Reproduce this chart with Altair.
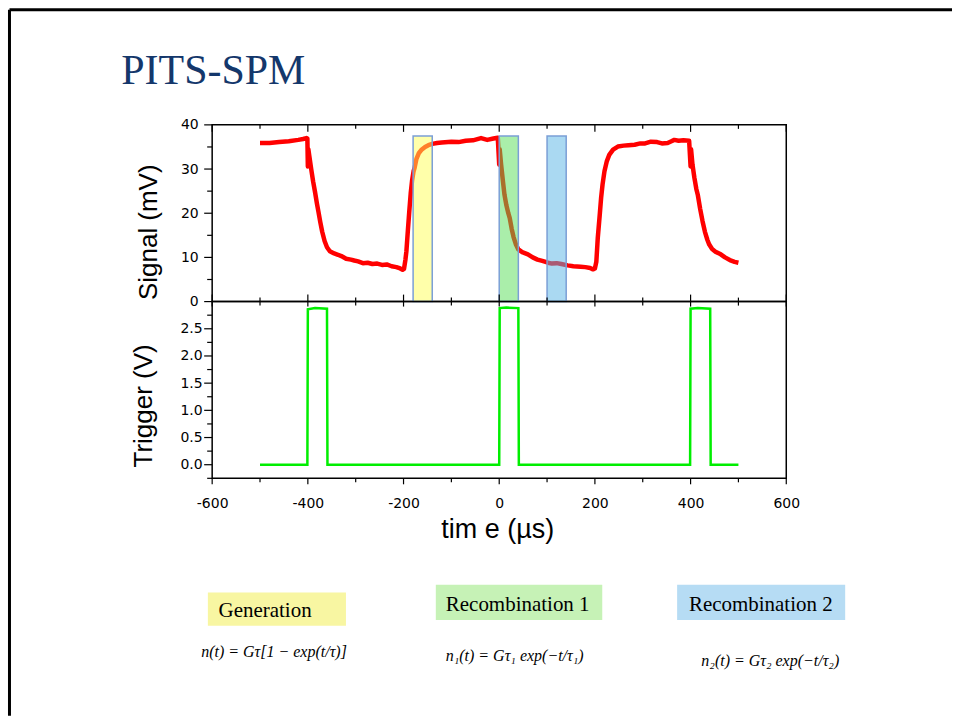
import altair as alt
import pandas as pd

# ---------------- data ----------------
sig_t = [-500, -480, -460, -440, -420, -410, -403, -401, -400, -399, -397, -393, -389, -385, -381,
         -378, -374, -370, -365, -360, -354, -345, -337, -330, -320, -310, -303, -295, -285, -275,
         -265, -255, -245, -235, -225, -215, -207, -202, -199, -196, -194, -191, -188, -185, -182,
         -179, -177, -173, -168, -163, -155, -148, -140, -130, -120, -100, -85, -70, -55, -38,
         -25, -12, -3, 0, 1, 4, 8, 11, 15, 19, 22, 26, 30, 35, 40, 48, 60, 70, 80, 90, 102, 110,
         120, 130, 143, 155, 170, 180, 190, 196, 200, 203, 206, 210, 213, 216, 220, 225, 230, 238,
         248, 260, 270, 283, 295, 305, 317, 330, 340, 352, 360, 366, 375, 385, 397, 400, 401, 404,
         408, 412, 415, 420, 425, 430, 435, 439, 445, 452, 463, 472, 482, 492, 500]
sig_v = [35.9, 35.9, 36.1, 36.3, 36.6, 36.8, 37.0, 36.9, 30.6, 34.5, 33.0, 30.0, 27.2, 24.8, 22.2,
         20.4, 18.0, 15.8, 13.7, 12.3, 11.4, 10.9, 10.6, 10.3, 9.7, 9.5, 9.3, 9.1, 8.7, 8.8,
         8.5, 8.6, 8.3, 8.4, 8.0, 7.8, 7.5, 7.2, 7.4, 9.5, 11.4, 16.0, 20.4, 24.5, 27.5,
         29.5, 30.2, 32.3, 33.6, 34.3, 35.0, 35.4, 35.7, 35.9, 36.0, 36.2, 36.1, 36.4, 36.5, 37.0,
         36.6, 36.9, 37.1, 31.0, 34.5, 31.0, 27.0, 24.2, 21.8, 20.0, 18.9, 16.5, 14.6, 12.9, 11.8,
         11.2, 10.7, 10.0, 9.5, 9.2, 8.8, 8.6, 8.7, 8.5, 8.2, 8.0, 7.9, 7.8, 7.6, 7.3, 7.5, 9.0,
         14.4, 19.5, 23.5, 26.5, 29.5, 31.8, 33.2, 34.4, 35.1, 35.3, 35.4, 35.5, 35.8, 35.8, 36.2,
         36.1, 35.8, 35.9, 36.3, 36.6, 36.4, 36.5, 36.4, 30.6, 34.5, 31.0, 28.0, 25.5, 24.2, 21.0,
         18.2, 15.8, 14.0, 12.9, 11.9, 11.3, 10.7, 10.0, 9.4, 9.0, 8.8]

trig_t = [-500, -401, -400, -385, -360, -359, 0, 1, 15, 40, 41, 399, 400, 415, 441, 442, 500]
trig_v = [0.0, 0.0, 2.86, 2.88, 2.87, 0.0, 0.0, 2.88, 2.89, 2.88, 0.0, 0.0, 2.87, 2.88, 2.87, 0.0, 0.0]

region_names = ["Generation", "Recombination 1", "Recombination 2"]
region_start = [-180, 0, 100]
region_end = [-140, 40, 140]
region_top = 37.5
region_colors = ["#ffff55", "#55dd55", "#55b4e6"]
box_colors = ["#f8f6a2", "#c6f2b6", "#b6dcf4"]
formulas = ["n(t) = Gτ[1 − exp(t/τ)]", "n₁(t) = Gτ₁ exp(−t/τ₁)", "n₂(t) = Gτ₂ exp(−t/τ₂)"]

x_major = [-600, -400, -200, 0, 200, 400, 600]
x_minor = [-500, -300, -100, 100, 300, 500]
sig_major = [0, 10, 20, 30, 40]
sig_minor = [5, 15, 25, 35]
trig_major = [0, 0.5, 1.0, 1.5, 2.0, 2.5]
trig_minor = [-0.25, 0.25, 0.75, 1.25, 1.75, 2.25, 2.75]

# ---------------- layout constants ----------------
W, H = 575, 177
OX, OY_TOP, OY_BOT = 211, 123.3, 300.3   # plot origins in the page
LBL_FONT = "DejaVu Sans"
TTL_FONT = "Liberation Sans"
SERIF = "Liberation Serif"

xscale = alt.Scale(domain=[-600, 600], nice=False, zero=False)
sig_scale = alt.Scale(domain=[0, 40], nice=False, zero=False)
trig_scale = alt.Scale(domain=[-0.25, 3.0], nice=False, zero=False)

sig_axis = alt.Axis(values=sig_major, format="d", ticks=False, tickSize=0, domain=False, grid=False,
                    labelFlush=False, labelOverlap=False,
                    labelPadding=14, labelFont=LBL_FONT, labelFontSize=14, labelColor="black",
                    title="Signal (mV)", titleFont=TTL_FONT, titleFontSize=26, titleFontWeight="normal",
                    titleColor="black", titleAngle=270, titleAlign="center", titleBaseline="alphabetic",
                    titleX=-56, titleY=107)
trig_axis = alt.Axis(values=trig_major, format=".1f", ticks=False, tickSize=0, domain=False, grid=False,
                     labelFlush=False, labelOverlap=False,
                     labelPadding=10, labelFont=LBL_FONT, labelFontSize=14, labelColor="black",
                     title="Trigger (V)", titleFont=TTL_FONT, titleFontSize=26, titleFontWeight="normal",
                     titleColor="black", titleAngle=270, titleAlign="center", titleBaseline="alphabetic",
                     titleX=-61, titleY=104)
x_axis_bot = alt.Axis(values=x_major, labelExpr="datum.value + ''", ticks=False, tickSize=0, domain=False,
                      labelFlush=False, labelOverlap=False,
                      grid=False, labelPadding=18, labelFont=LBL_FONT, labelFontSize=14, labelColor="black",
                      title="tim e (µs)", titleFont=TTL_FONT, titleFontSize=27, titleFontWeight="normal",
                      titleColor="black", titleAlign="center", titleBaseline="alphabetic",
                      titleX=285.5, titleY=59)

X_top = alt.X("t:Q", scale=xscale, axis=None)
X_bot = alt.X("t:Q", scale=xscale, axis=x_axis_bot)
Y_sig = alt.Y("v:Q", scale=sig_scale, axis=sig_axis)
Y_trig = alt.Y("v:Q", scale=trig_scale, axis=trig_axis)

sig_df = pd.DataFrame({"t": sig_t, "v": sig_v})
trig_df = pd.DataFrame({"t": trig_t, "v": trig_v})
reg_df = pd.DataFrame({"name": region_names, "t": region_start, "t2": region_end,
                       "v": [0] * 3, "v2": [region_top] * 3})
xmaj_df = pd.DataFrame({"t": x_major})
xmin_df = pd.DataFrame({"t": x_minor})
one = pd.DataFrame({"a": [0]})


def xticks(df, X, y0, y1):
    return alt.Chart(df).mark_rule(color="black", strokeWidth=1.2).encode(
        x=X, y=alt.value(y0), y2=alt.value(y1))


def yticks(vals, Y, length):
    return alt.Chart(pd.DataFrame({"v": vals})).mark_rule(color="black", strokeWidth=1.2).encode(
        y=Y, x=alt.value(-length), x2=alt.value(0))


# ---------------- top panel ----------------
sig_line = alt.Chart(sig_df).mark_line(color="#ff0000", strokeWidth=4.5, strokeJoin="round").encode(
    x=X_top, y=Y_sig)
regions = alt.Chart(reg_df).mark_rect(fillOpacity=0.5, stroke="#7b9fd6", strokeWidth=1.5).encode(
    x=X_top, x2="t2:Q", y=Y_sig, y2="v2:Q",
    color=alt.Color("name:N", scale=alt.Scale(domain=region_names, range=region_colors), legend=None))
title_txt = alt.Chart(one).mark_text(font=SERIF, fontSize=42, color="#14376b", align="left",
                                     baseline="alphabetic").encode(
    x=alt.value(120 - OX), y=alt.value(82.7 - OY_TOP), text=alt.value("PITS-SPM"))
border_left = alt.Chart(one).mark_rule(color="black", strokeWidth=3).encode(
    x=alt.value(8 - OX), y=alt.value(8 - OY_TOP), y2=alt.value(715 - OY_TOP))
border_top = alt.Chart(one).mark_rule(color="black", strokeWidth=3).encode(
    x=alt.value(8 - OX), x2=alt.value(952 - OX), y=alt.value(8 - OY_TOP))

top = alt.layer(
    sig_line, regions,
    xticks(xmaj_df, X_top, 0, 7), xticks(xmin_df, X_top, 0, 4),
    xticks(xmaj_df, X_top, H, H - 7), xticks(xmin_df, X_top, H, H - 4),
    yticks(sig_major, Y_sig, 8), yticks(sig_minor, Y_sig, 5),
    title_txt, border_left, border_top,
).properties(width=W, height=H)

# ---------------- bottom panel ----------------
trig_line = alt.Chart(trig_df).mark_line(color="#00ee00", strokeWidth=2.5).encode(x=X_bot, y=Y_trig)

ann_layers = []
box_geo = [(206.7, 345, 591.7, 625), (435, 601.7, 584, 619.3), (676.7, 845, 584, 619.3)]
name_pos = [(264, 616), (517, 610.5), (760.5, 610.5)]
form_pos = [(273, 656), (514, 660), (770, 665)]
for i in range(3):
    x0, x1, y0, y1 = box_geo[i]
    ann_layers.append(alt.Chart(one).mark_rect(color=box_colors[i]).encode(
        x=alt.value(x0 - OX), x2=alt.value(x1 - OX), y=alt.value(y0 - OY_BOT), y2=alt.value(y1 - OY_BOT)))
    nx, ny = name_pos[i]
    ann_layers.append(alt.Chart(one).mark_text(font=SERIF, fontSize=21, color="black", align="center",
                                               baseline="alphabetic").encode(
        x=alt.value(nx - OX), y=alt.value(ny - OY_BOT), text=alt.value(region_names[i])))
    fx, fy = form_pos[i]
    ann_layers.append(alt.Chart(one).mark_text(font=SERIF, fontSize=16, fontStyle="italic", color="black",
                                               align="center", baseline="alphabetic").encode(
        x=alt.value(fx - OX), y=alt.value(fy - OY_BOT), text=alt.value(formulas[i])))

bottom = alt.layer(
    trig_line,
    xticks(xmaj_df, X_bot, 0, 5), xticks(xmin_df, X_bot, 0, 4),
    xticks(xmaj_df, X_bot, H, H + 6), xticks(xmin_df, X_bot, H, H + 4),
    yticks(trig_major, Y_trig, 8), yticks(trig_minor, Y_trig, 5),
    *ann_layers,
).properties(width=W, height=H)

chart = alt.vconcat(top, bottom, spacing=0, bounds="flush").properties(
    padding={"left": 6.5, "top": 6.5, "right": 0, "bottom": 0},
    background="white",
).configure_view(stroke="black", strokeWidth=1.5)

chart.save("out.html", embed_options={"renderer": "svg", "actions": False})
